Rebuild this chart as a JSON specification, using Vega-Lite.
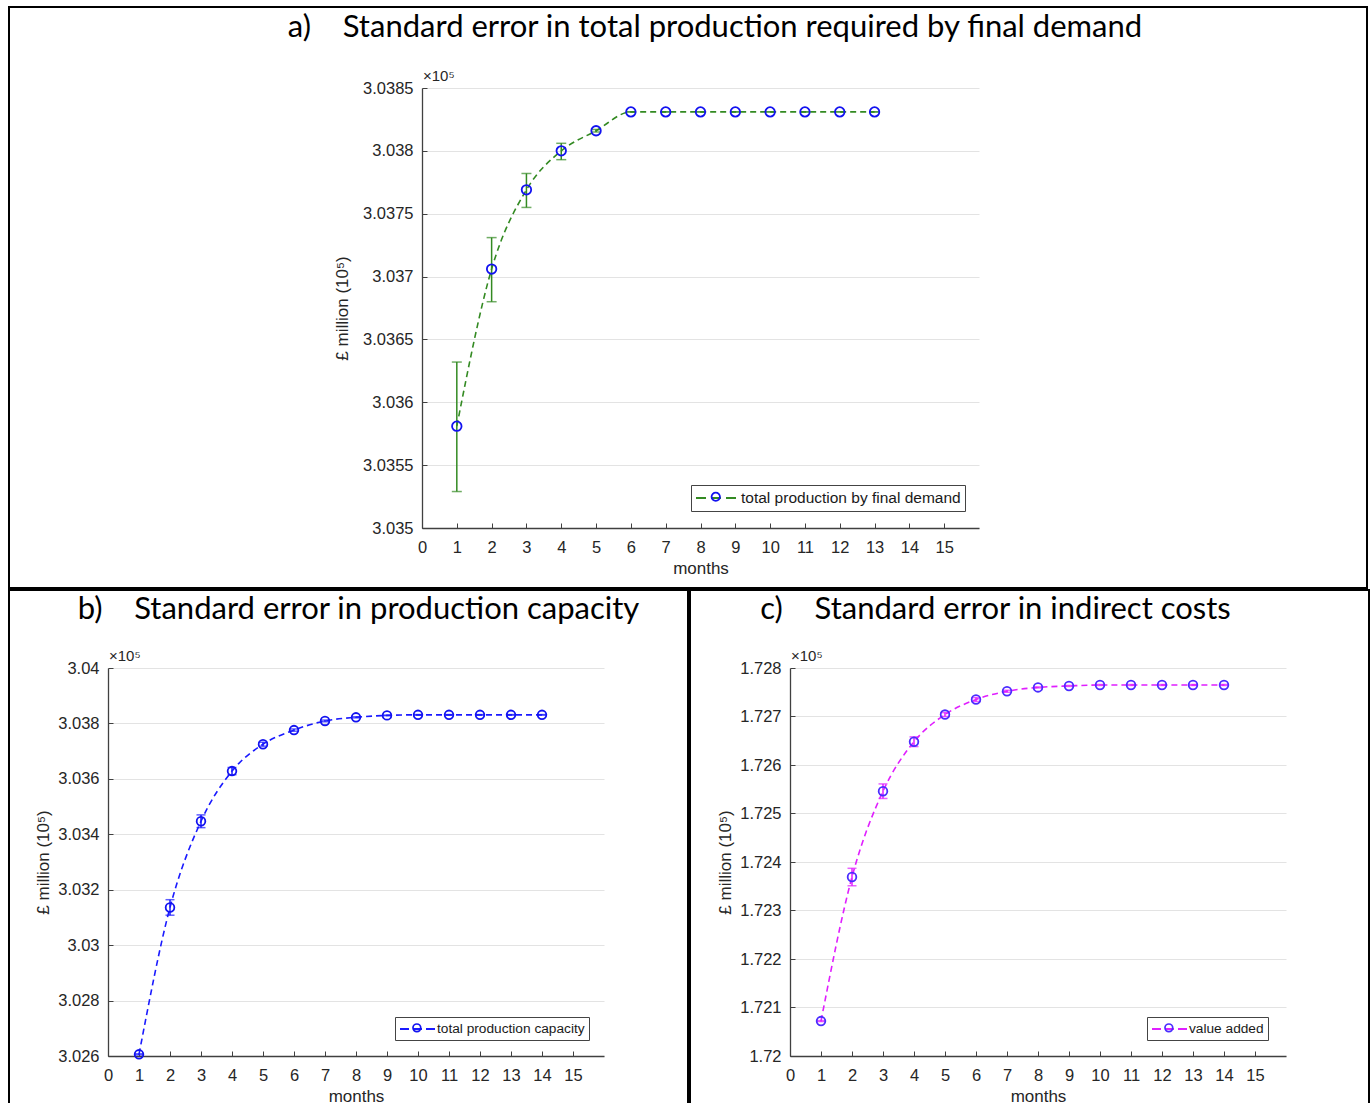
{
  "$schema": "https://vega.github.io/schema/vega-lite/v6.json",
  "background": "white",
  "padding": {"left": 8, "top": 6, "right": 0, "bottom": 0},
  "spacing": 0,
  "resolve": {"scale": {"color": "independent", "shape": "independent"}, "legend": {"color": "independent", "shape": "independent"}},
  "datasets": {
    "a": [
      {"month": 1, "value": 3.03581, "lo": 3.03529, "hi": 3.03632},
      {"month": 2, "value": 3.03706, "lo": 3.03680, "hi": 3.03731},
      {"month": 3, "value": 3.03769, "lo": 3.03755, "hi": 3.03782},
      {"month": 4, "value": 3.03800, "lo": 3.03793, "hi": 3.03806},
      {"month": 5, "value": 3.03816, "lo": 3.03815, "hi": 3.03817},
      {"month": 6, "value": 3.03831, "lo": 3.03831, "hi": 3.03831},
      {"month": 7, "value": 3.03831, "lo": 3.03831, "hi": 3.03831},
      {"month": 8, "value": 3.03831, "lo": 3.03831, "hi": 3.03831},
      {"month": 9, "value": 3.03831, "lo": 3.03831, "hi": 3.03831},
      {"month": 10, "value": 3.03831, "lo": 3.03831, "hi": 3.03831},
      {"month": 11, "value": 3.03831, "lo": 3.03831, "hi": 3.03831},
      {"month": 12, "value": 3.03831, "lo": 3.03831, "hi": 3.03831},
      {"month": 13, "value": 3.03831, "lo": 3.03831, "hi": 3.03831}
    ],
    "b": [
      {"month": 1, "value": 3.02606, "lo": 3.02604, "hi": 3.02608},
      {"month": 2, "value": 3.03136, "lo": 3.03108, "hi": 3.03164},
      {"month": 3, "value": 3.03447, "lo": 3.03424, "hi": 3.03470},
      {"month": 4, "value": 3.03628, "lo": 3.03615, "hi": 3.03641},
      {"month": 5, "value": 3.03725, "lo": 3.03718, "hi": 3.03732},
      {"month": 6, "value": 3.03776, "lo": 3.03772, "hi": 3.03780},
      {"month": 7, "value": 3.03809, "lo": 3.03806, "hi": 3.03812},
      {"month": 8, "value": 3.03822, "lo": 3.03820, "hi": 3.03824},
      {"month": 9, "value": 3.03829, "lo": 3.03828, "hi": 3.03830},
      {"month": 10, "value": 3.03831, "lo": 3.03830, "hi": 3.03832},
      {"month": 11, "value": 3.03831, "lo": 3.03830, "hi": 3.03832},
      {"month": 12, "value": 3.03831, "lo": 3.03830, "hi": 3.03832},
      {"month": 13, "value": 3.03831, "lo": 3.03830, "hi": 3.03832},
      {"month": 14, "value": 3.03831, "lo": 3.03830, "hi": 3.03832}
    ],
    "c": [
      {"month": 1, "value": 1.72072, "lo": 1.72071, "hi": 1.72073},
      {"month": 2, "value": 1.72369, "lo": 1.72351, "hi": 1.72387},
      {"month": 3, "value": 1.72546, "lo": 1.72531, "hi": 1.72561},
      {"month": 4, "value": 1.72648, "lo": 1.72638, "hi": 1.72658},
      {"month": 5, "value": 1.72704, "lo": 1.72700, "hi": 1.72708},
      {"month": 6, "value": 1.72735, "lo": 1.72731, "hi": 1.72739},
      {"month": 7, "value": 1.72752, "lo": 1.72750, "hi": 1.72754},
      {"month": 8, "value": 1.72760, "lo": 1.72759, "hi": 1.72761},
      {"month": 9, "value": 1.72763, "lo": 1.72762, "hi": 1.72764},
      {"month": 10, "value": 1.72765, "lo": 1.72764, "hi": 1.72766},
      {"month": 11, "value": 1.72765, "lo": 1.72764, "hi": 1.72766},
      {"month": 12, "value": 1.72765, "lo": 1.72764, "hi": 1.72766},
      {"month": 13, "value": 1.72765, "lo": 1.72764, "hi": 1.72766},
      {"month": 14, "value": 1.72765, "lo": 1.72764, "hi": 1.72766}
    ]
  },
  "vconcat": [
    {
      "width": 1358,
      "height": 581,
      "title": {"text": "a)\u00a0\u00a0\u00a0\u00a0Standard error in total production required by final demand", "dx": 27, "offset": -37},
      "data": {"name": "a"},
      "encoding": {
        "x": {"field": "month", "type": "quantitative", "scale": {"domain": [0, 16], "range": [413, 970], "nice": false, "zero": false},
          "axis": {"values": [0,1,2,3,4,5,6,7,8,9,10,11,12,13,14,15], "title": "months", "offset": -60}}
      },
      "layer": [
        {
          "mark": {"type": "line", "strokeDash": [6, 4], "strokeWidth": 1.6, "interpolate": "monotone"},
          "encoding": {
            "y": {"field": "value", "type": "quantitative", "scale": {"domain": [3.035, 3.0385], "range": [521, 81], "nice": false, "zero": false},
              "axis": {"values": [3.035, 3.0355, 3.036, 3.0365, 3.037, 3.0375, 3.038, 3.0385], "format": "~g", "title": "£ million (10⁵)", "offset": -413, "grid": true, "titlePadding": 11}},
            "color": {"datum": "total production by final demand", "scale": {"range": ["#338a22"]},
              "legend": {"title": null, "orient": "none", "legendX": 682, "legendY": 478, "symbolType": "M-1,0H4", "symbolStrokeColor": "#338a22", "symbolDash": [10, 5], "symbolSize": 256, "symbolStrokeWidth": 1.8, "labelOffset": 28}}
          }
        },
        {
          "mark": {"type": "rule", "color": "#338a22", "strokeWidth": 1.5},
          "encoding": {
            "y": {"field": "lo", "type": "quantitative", "scale": {"domain": [3.035, 3.0385], "range": [521, 81], "nice": false, "zero": false}},
            "y2": {"field": "hi"}
          }
        },
        {
          "mark": {"type": "tick", "orient": "horizontal", "color": "#338a22", "size": 10, "thickness": 1.5},
          "encoding": {
            "y": {"field": "lo", "type": "quantitative", "scale": {"domain": [3.035, 3.0385], "range": [521, 81], "nice": false, "zero": false}}
          }
        },
        {
          "mark": {"type": "tick", "orient": "horizontal", "color": "#338a22", "size": 10, "thickness": 1.5},
          "encoding": {
            "y": {"field": "hi", "type": "quantitative", "scale": {"domain": [3.035, 3.0385], "range": [521, 81], "nice": false, "zero": false}}
          }
        },
        {
          "mark": {"type": "point", "filled": false, "color": "#1212f0", "size": 90, "strokeWidth": 1.8, "opacity": 1},
          "encoding": {
            "y": {"field": "value", "type": "quantitative", "scale": {"domain": [3.035, 3.0385], "range": [521, 81], "nice": false, "zero": false}},
            "shape": {"datum": "o", "scale": {"range": ["circle"]},
              "legend": {"title": null, "orient": "none", "legendX": 695, "legendY": 478, "zindex": 3, "symbolStrokeColor": "#1212f0", "symbolFillColor": "transparent", "symbolSize": 70, "symbolStrokeWidth": 1.8, "labelOpacity": 0, "strokeColor": "transparent", "fillColor": "transparent"}}
          }
        },
        {
          "data": {"values": [{"t": "×10⁵", "month": 0}]},
          "mark": {"type": "text", "align": "left", "baseline": "alphabetic", "dx": 1, "dy": -7, "fontSize": 15, "font": "Liberation Sans", "color": "#262626"},
          "encoding": {
            "y": {"datum": 3.0385, "type": "quantitative", "scale": {"domain": [3.035, 3.0385], "range": [521, 81], "nice": false, "zero": false}},
            "text": {"field": "t"}
          }
        }
      ]
    },
    {
      "spacing": 0,
      "resolve": {"scale": {"color": "independent", "shape": "independent"}, "legend": {"color": "independent", "shape": "independent"}},
      "hconcat": [
        {
          "width": 679,
          "height": 530,
          "title": {"text": "b)\u00a0\u00a0\u00a0\u00a0Standard error in production capacity", "dx": 10, "offset": -36},
          "data": {"name": "b"},
          "encoding": {
            "x": {"field": "month", "type": "quantitative", "scale": {"domain": [0, 16], "range": [99, 595], "nice": false, "zero": false},
              "axis": {"values": [0,1,2,3,4,5,6,7,8,9,10,11,12,13,14,15], "title": "months", "offset": -64}}
          },
          "layer": [
            {
              "mark": {"type": "line", "strokeDash": [6, 4], "strokeWidth": 1.6, "interpolate": "monotone"},
              "encoding": {
                "y": {"field": "value", "type": "quantitative", "scale": {"domain": [3.026, 3.04], "range": [466, 78], "nice": false, "zero": false},
                  "axis": {"values": [3.026, 3.028, 3.03, 3.032, 3.034, 3.036, 3.038, 3.04], "format": "~g", "title": "£ million (10⁵)", "offset": -99, "grid": true, "titlePadding": 5}},
                "color": {"datum": "total production capacity", "scale": {"range": ["#1a1aff"]},
                  "legend": {"title": null, "orient": "none", "legendX": 386, "legendY": 427, "symbolType": "M-1,0H4", "symbolStrokeColor": "#1a1aff", "symbolDash": [9, 4], "symbolSize": 196, "symbolStrokeWidth": 1.8, "labelOffset": 22, "labelFontSize": 13.7}}
              }
            },
            {
              "mark": {"type": "rule", "color": "#1a1aff", "strokeWidth": 1.5},
              "encoding": {
                "y": {"field": "lo", "type": "quantitative", "scale": {"domain": [3.026, 3.04], "range": [466, 78], "nice": false, "zero": false}},
                "y2": {"field": "hi"}
              }
            },
            {
              "mark": {"type": "tick", "orient": "horizontal", "color": "#1a1aff", "size": 9, "thickness": 1.5},
              "encoding": {
                "y": {"field": "lo", "type": "quantitative", "scale": {"domain": [3.026, 3.04], "range": [466, 78], "nice": false, "zero": false}}
              }
            },
            {
              "mark": {"type": "tick", "orient": "horizontal", "color": "#1a1aff", "size": 9, "thickness": 1.5},
              "encoding": {
                "y": {"field": "hi", "type": "quantitative", "scale": {"domain": [3.026, 3.04], "range": [466, 78], "nice": false, "zero": false}}
              }
            },
            {
              "mark": {"type": "point", "filled": false, "color": "#1212f0", "size": 75, "strokeWidth": 1.8, "opacity": 1},
              "encoding": {
                "y": {"field": "value", "type": "quantitative", "scale": {"domain": [3.026, 3.04], "range": [466, 78], "nice": false, "zero": false}},
                "shape": {"datum": "o", "scale": {"range": ["circle"]},
                  "legend": {"title": null, "orient": "none", "legendX": 397, "legendY": 427, "zindex": 3, "symbolStrokeColor": "#1212f0", "symbolFillColor": "transparent", "symbolSize": 60, "symbolStrokeWidth": 1.7, "labelOpacity": 0, "labelFontSize": 13.7, "strokeColor": "transparent", "fillColor": "transparent"}}
              }
            },
            {
              "data": {"values": [{"t": "×10⁵", "month": 0}]},
              "mark": {"type": "text", "align": "left", "baseline": "alphabetic", "dx": 1, "dy": -7, "fontSize": 15, "font": "Liberation Sans", "color": "#262626"},
              "encoding": {
                "y": {"datum": 3.04, "type": "quantitative", "scale": {"domain": [3.026, 3.04], "range": [466, 78], "nice": false, "zero": false}},
                "text": {"field": "t"}
              }
            }
          ]
        },
        {
          "width": 679,
          "height": 530,
          "title": {"text": "c)\u00a0\u00a0\u00a0\u00a0Standard error in indirect costs", "dx": -34, "offset": -36},
          "data": {"name": "c"},
          "encoding": {
            "x": {"field": "month", "type": "quantitative", "scale": {"domain": [0, 16], "range": [100, 596], "nice": false, "zero": false},
              "axis": {"values": [0,1,2,3,4,5,6,7,8,9,10,11,12,13,14,15], "title": "months", "offset": -64}}
          },
          "layer": [
            {
              "mark": {"type": "line", "strokeDash": [6, 4], "strokeWidth": 1.6, "interpolate": "monotone"},
              "encoding": {
                "y": {"field": "value", "type": "quantitative", "scale": {"domain": [1.72, 1.728], "range": [466, 78], "nice": false, "zero": false},
                  "axis": {"values": [1.72, 1.721, 1.722, 1.723, 1.724, 1.725, 1.726, 1.727, 1.728], "format": "~g", "title": "£ million (10⁵)", "offset": -100, "grid": true, "titlePadding": 5}},
                "color": {"datum": "value added", "scale": {"range": ["#e01fff"]},
                  "legend": {"title": null, "orient": "none", "legendX": 457, "legendY": 427, "symbolType": "M-1,0H4", "symbolStrokeColor": "#e01fff", "symbolDash": [9, 4], "symbolSize": 196, "symbolStrokeWidth": 1.8, "labelOffset": 22, "labelFontSize": 13.7}}
              }
            },
            {
              "mark": {"type": "rule", "color": "#e01fff", "strokeWidth": 1.5},
              "encoding": {
                "y": {"field": "lo", "type": "quantitative", "scale": {"domain": [1.72, 1.728], "range": [466, 78], "nice": false, "zero": false}},
                "y2": {"field": "hi"}
              }
            },
            {
              "mark": {"type": "tick", "orient": "horizontal", "color": "#e01fff", "size": 9, "thickness": 1.5},
              "encoding": {
                "y": {"field": "lo", "type": "quantitative", "scale": {"domain": [1.72, 1.728], "range": [466, 78], "nice": false, "zero": false}}
              }
            },
            {
              "mark": {"type": "tick", "orient": "horizontal", "color": "#e01fff", "size": 9, "thickness": 1.5},
              "encoding": {
                "y": {"field": "hi", "type": "quantitative", "scale": {"domain": [1.72, 1.728], "range": [466, 78], "nice": false, "zero": false}}
              }
            },
            {
              "mark": {"type": "point", "filled": false, "color": "#4a2cff", "size": 75, "strokeWidth": 1.8, "opacity": 1},
              "encoding": {
                "y": {"field": "value", "type": "quantitative", "scale": {"domain": [1.72, 1.728], "range": [466, 78], "nice": false, "zero": false}},
                "shape": {"datum": "o", "scale": {"range": ["circle"]},
                  "legend": {"title": null, "orient": "none", "legendX": 468, "legendY": 427, "zindex": 3, "symbolStrokeColor": "#4a2cff", "symbolFillColor": "transparent", "symbolSize": 60, "symbolStrokeWidth": 1.7, "labelOpacity": 0, "labelFontSize": 13.7, "strokeColor": "transparent", "fillColor": "transparent"}}
              }
            },
            {
              "data": {"values": [{"t": "×10⁵", "month": 0}]},
              "mark": {"type": "text", "align": "left", "baseline": "alphabetic", "dx": 1, "dy": -7, "fontSize": 15, "font": "Liberation Sans", "color": "#262626"},
              "encoding": {
                "y": {"datum": 1.728, "type": "quantitative", "scale": {"domain": [1.72, 1.728], "range": [466, 78], "nice": false, "zero": false}},
                "text": {"field": "t"}
              }
            }
          ]
        }
      ]
    }
  ],
  "config": {
    "view": {"stroke": "#000", "strokeWidth": 2},
    "font": "Liberation Sans",
    "title": {"font": "Lato", "fontSize": 31, "fontWeight": "normal", "color": "#000", "baseline": "alphabetic", "anchor": "middle", "frame": "group"},
    "axis": {
      "labelFont": "Liberation Sans", "labelFontSize": 16.5, "labelColor": "#262626",
      "titleFont": "Liberation Sans", "titleFontSize": 17, "titleFontWeight": "normal", "titleColor": "#262626",
      "domainColor": "#404040", "domainWidth": 1.3, "tickColor": "#404040", "tickSize": -5, "tickWidth": 1,
      "grid": false, "gridColor": "#e3e3e3", "gridWidth": 1.2, "labelFlush": false, "labelOverlap": false
    },
    "axisX": {"titlePadding": 5, "labelPadding": 16},
    "axisY": {"labelPadding": 14},
    "legend": {"labelFont": "Liberation Sans", "labelFontSize": 15.5, "labelColor": "#1a1a1a", "strokeColor": "#444", "fillColor": "white", "padding": 4, "cornerRadius": 0, "labelLimit": 400, "labelOffset": 4}
  }
}
